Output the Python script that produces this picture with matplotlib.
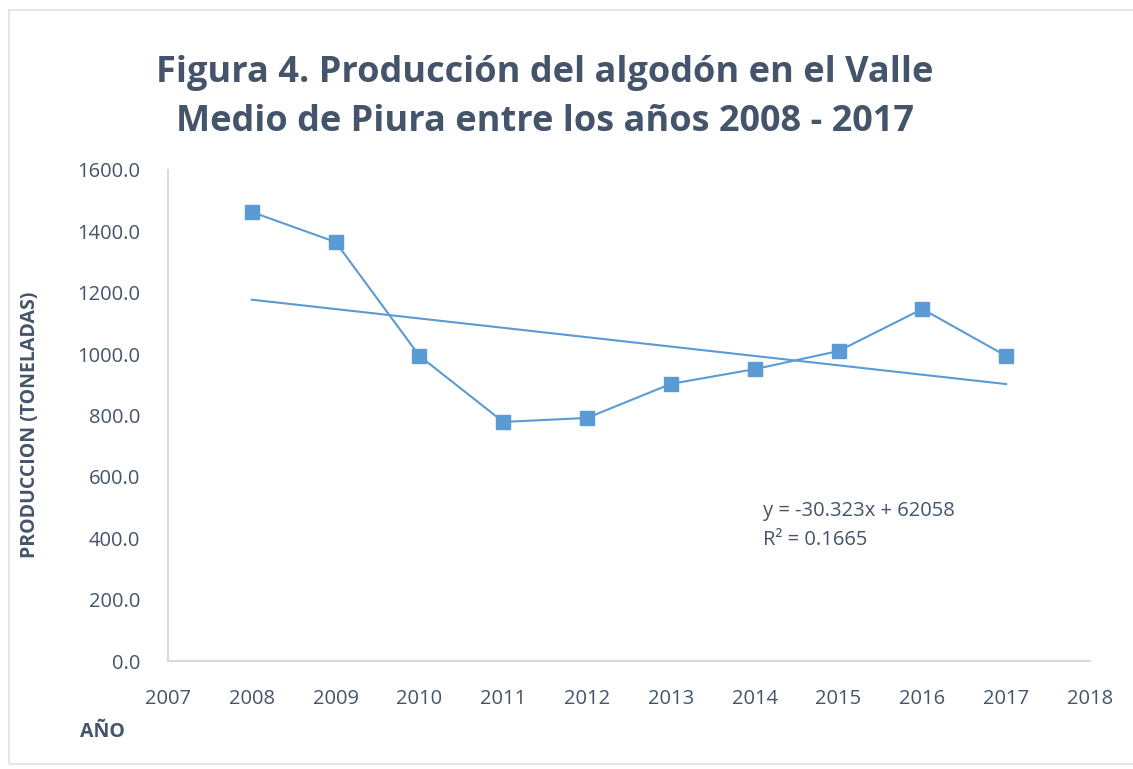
import numpy as np
import matplotlib
matplotlib.use('Agg')
import matplotlib.pyplot as plt
from matplotlib.patches import Rectangle

# Data
years = [2008, 2009, 2010, 2011, 2012, 2013, 2014, 2015, 2016, 2017]
production = [1463, 1365, 994, 779, 792, 903, 951, 1010, 1147, 994]
y_ticks = [0, 200, 400, 600, 800, 1000, 1200, 1400, 1600]
x_ticks = list(range(2007, 2019))

TEXT = '#44546A'
BLUE = '#5B9BD5'

plt.rcParams['font.family'] = ['Open Sans', 'DejaVu Sans']

fig = plt.figure(figsize=(11.33, 7.69), dpi=100)
ax = fig.add_axes([0.1483, 0.1404, 0.8137, 0.6386])

# series
ax.plot(years, production, color=BLUE, lw=1.5, marker='s', ms=10,
        markerfacecolor=BLUE, markeredgecolor=BLUE, zorder=3)

# linear trend
slope, intercept = np.polyfit(years, production, 1)
trend = np.polyval([slope, intercept], years)
ax.plot([years[0], years[-1]], [trend[0], trend[-1]], color=BLUE, lw=1.5, zorder=2)

ax.text(2014.1, 442, 'y = -30.323x + 62058\nR² = 0.1665', color=TEXT,
        fontsize=14.5, va='center', ha='left', linespacing=1.6)

ax.set_xlim(2007, 2018)
ax.set_ylim(0, 1600)
ax.set_xticks(x_ticks)
ax.set_yticks(y_ticks)
ax.set_yticklabels([f'{v:.1f}' for v in y_ticks])
ax.tick_params(axis='both', colors=TEXT, labelsize=14.5, length=0)
ax.tick_params(axis='y', pad=20)
ax.tick_params(axis='x', pad=20)
for s in ['top', 'right']:
    ax.spines[s].set_visible(False)
for s in ['left', 'bottom']:
    ax.spines[s].set_color('#D9D9D9')
    ax.spines[s].set_linewidth(1.5)

fig.text(0.0265, 0.447, 'PRODUCCION (TONELADAS)', rotation=90, color=TEXT,
         fontsize=14, fontweight='bold', ha='center', va='center')
fig.text(0.071, 0.048, 'AÑO', color=TEXT, fontsize=14, fontweight='bold',
         ha='left', va='center')

fig.text(0.481, 0.873, 'Figura 4. Producción del algodón en el Valle\nMedio de Piura entre los años 2008 - 2017',
         color=TEXT, fontsize=26, fontweight='bold', ha='center', va='center',
         linespacing=1.5)

fig.patches.append(Rectangle((0.008, 0.006), 1.2, 0.981, transform=fig.transFigure,
                             fill=False, edgecolor='#E0E0E0', lw=1.2))

fig.savefig('out.png', dpi=100)
